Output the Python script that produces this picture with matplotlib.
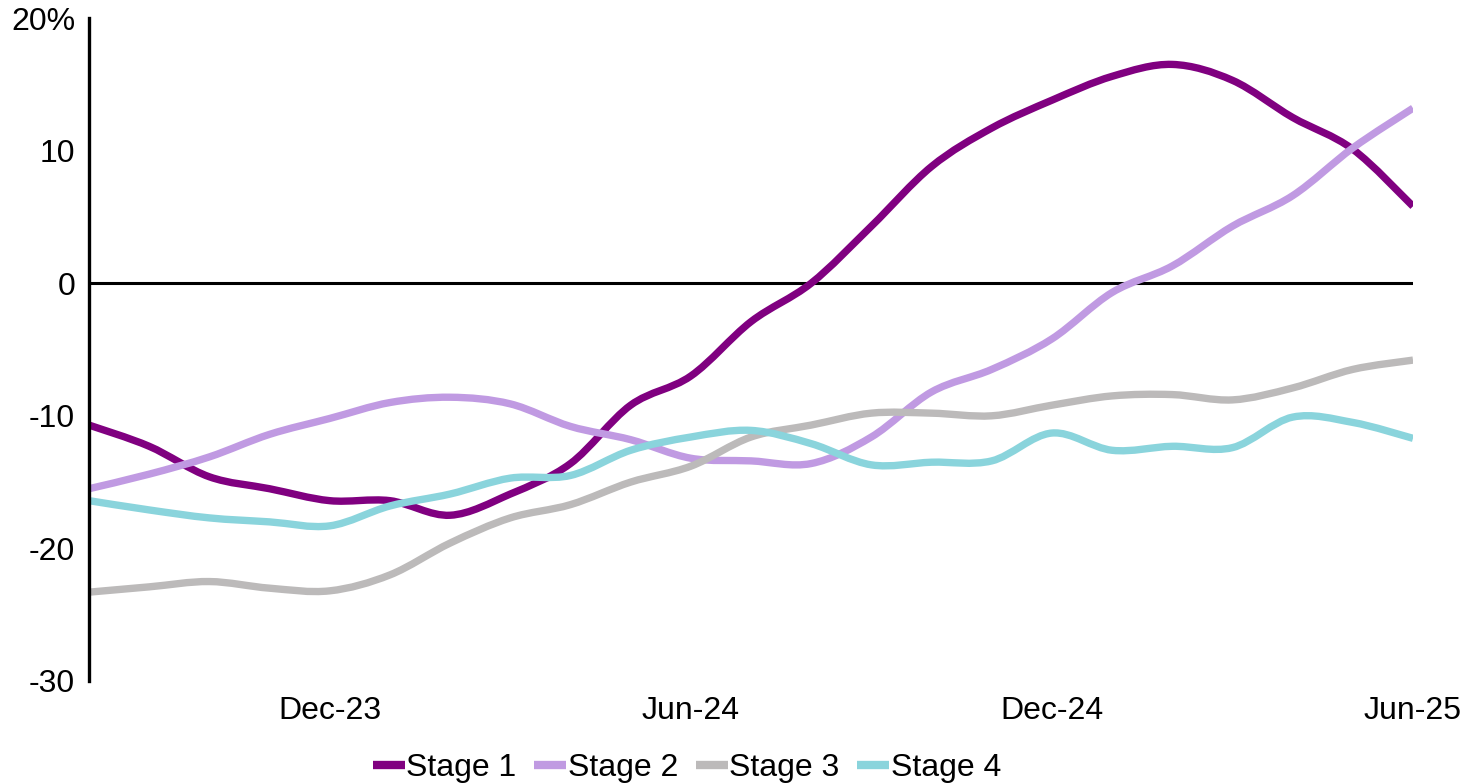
import numpy as np
import matplotlib
matplotlib.use("Agg")
import matplotlib.pyplot as plt
from matplotlib.path import Path
from matplotlib.patches import PathPatch
from matplotlib.lines import Line2D

plt.rcParams['font.family'] = ['Liberation Sans', 'DejaVu Sans']
plt.rcParams['font.size'] = 23

# monthly data, Aug-23 .. Jun-25 (% y/y)
months = ['Aug-23', 'Sep-23', 'Oct-23', 'Nov-23', 'Dec-23', 'Jan-24', 'Feb-24',
          'Mar-24', 'Apr-24', 'May-24', 'Jun-24', 'Jul-24', 'Aug-24', 'Sep-24',
          'Oct-24', 'Nov-24', 'Dec-24', 'Jan-25', 'Feb-25', 'Mar-25', 'Apr-25',
          'May-25', 'Jun-25']
stage1 = [-10.7, -12.3, -14.6, -15.5, -16.4, -16.4, -17.5, -15.9, -13.6, -9.2, -7.0,
          -2.9, 0.0, 4.3, 8.8, 11.7, 13.8, 15.6, 16.5, 15.3, 12.5, 10.1, 5.8]
stage2 = [-15.5, -14.4, -13.1, -11.4, -10.2, -9.0, -8.6, -9.1, -10.8, -11.8, -13.2,
          -13.4, -13.6, -11.6, -8.2, -6.5, -4.2, -0.7, 1.3, 4.3, 6.6, 10.2, 13.2]
stage3 = [-23.3, -22.9, -22.5, -23.0, -23.2, -22.0, -19.6, -17.7, -16.7, -15.0, -13.8,
          -11.6, -10.7, -9.8, -9.8, -10.0, -9.2, -8.5, -8.4, -8.8, -7.9, -6.5, -5.8]
stage4 = [-16.4, -17.1, -17.7, -18.0, -18.3, -16.8, -15.9, -14.7, -14.5, -12.6, -11.6,
          -11.1, -12.1, -13.7, -13.5, -13.4, -11.3, -12.6, -12.3, -12.4, -10.1, -10.5, -11.7]
series_names = ['Stage 1', 'Stage 2', 'Stage 3', 'Stage 4']
colors = ['#800080', '#C09AE2', '#BCBABA', '#8AD4DC']

tick_months = ['Dec-23', 'Jun-24', 'Dec-24', 'Jun-25']
y_ticks = [-30, -20, -10, 0, 10, 20]
y_labels = ['-30', '-20', '-10', '0', '10', '20%']


def smooth_path(x, y):
    # excel-style smoothed line: catmull-rom segments as cubic beziers
    pts = np.column_stack([x, y]).astype(float)
    ext = np.vstack([pts[0], pts, pts[-1]])
    verts = [pts[0]]
    codes = [Path.MOVETO]
    for i in range(len(pts) - 1):
        p0, p1, p2, p3 = ext[i], ext[i + 1], ext[i + 2], ext[i + 3]
        verts += [p1 + (p2 - p0) / 6, p2 - (p3 - p1) / 6, p2]
        codes += [Path.CURVE4] * 3
    return Path(verts, codes)


fig = plt.figure(figsize=(14.63, 7.84), dpi=100)
ax = fig.add_axes([89 / 1463, 103 / 784, (1413 - 89) / 1463, (766 - 103) / 784])

x = np.arange(len(months))
for vals, c in zip([stage1, stage2, stage3, stage4], colors):
    ax.add_patch(PathPatch(smooth_path(x, vals), fill=False, edgecolor=c,
                           lw=5.3, capstyle='butt', joinstyle='round'))

ax.axhline(0, color='black', lw=2.2, zorder=0)

ax.set_xlim(0, len(months) - 1)
ax.set_ylim(-30, 20)
ax.set_yticks(y_ticks)
ax.set_yticklabels(y_labels)
ax.set_xticks([months.index(m) for m in tick_months])
ax.set_xticklabels(tick_months)
ax.tick_params(axis='both', length=0, labelsize=23)
ax.tick_params(axis='x', pad=11)
ax.tick_params(axis='y', pad=10)

for s in ['top', 'right', 'bottom']:
    ax.spines[s].set_visible(False)
ax.spines['left'].set_linewidth(2.4)
ax.spines['left'].set_color('black')

handles = [Line2D([], [], color=c, lw=6, solid_capstyle='butt') for c in colors]
fig.legend(handles, series_names, loc='center', bbox_to_anchor=(687 / 1463, 1 - 768 / 784),
           ncol=4, frameon=False, fontsize=23, handlelength=1.0, handletextpad=0.05,
           columnspacing=0.55, borderaxespad=0, borderpad=0)

plt.savefig('out.png', dpi=100)
